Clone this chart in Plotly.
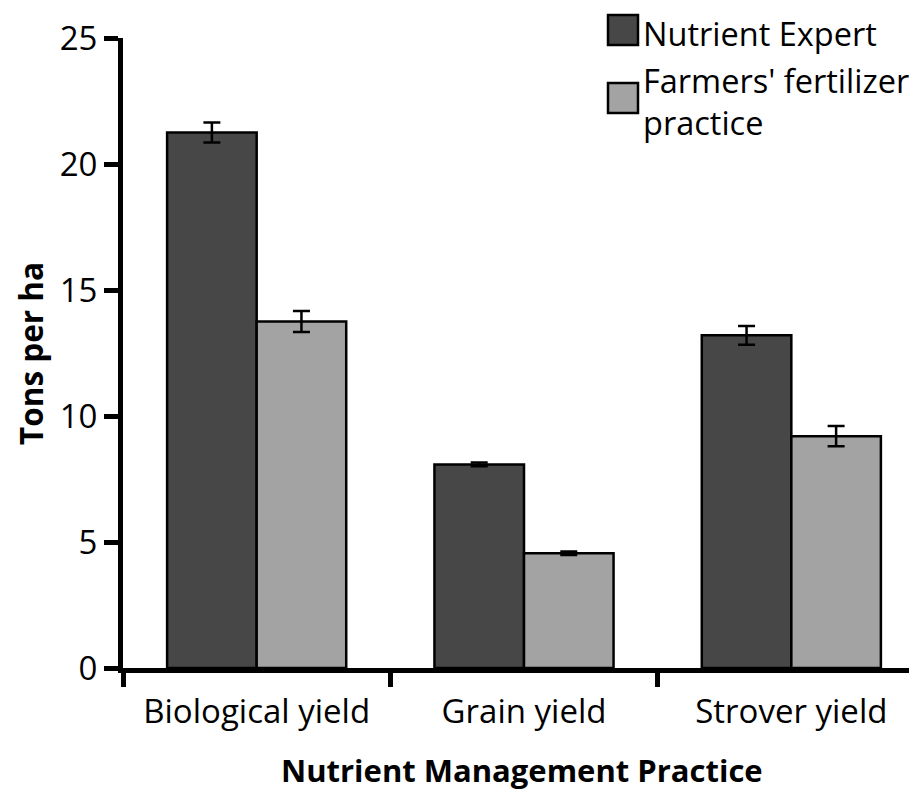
import plotly.graph_objects as go

categories = ["Biological yield", "Grain yield", "Strover yield"]
series_names = ["Nutrient Expert", "Farmers' fertilizer<br>practice"]
nutrient_expert = [21.25, 8.08, 13.2]
nutrient_expert_err = [0.4, 0.07, 0.37]
farmers_practice = [13.75, 4.55, 9.2]
farmers_practice_err = [0.42, 0.07, 0.4]
y_ticks = [0, 5, 10, 15, 20, 25]
x_title = "Nutrient Management Practice"
y_title = "Tons per ha"

colors = ["#474747", "#a3a3a3"]
FONT = "Open Sans"
FS = 33
FS_LEG = 32.5

W, H = 917, 792
OFF = 8  # page body margin
L, R, T, B = 115, 0, 30, 132


def px_x(p):
    return (p - OFF - L) / (W - L - R)


def px_y(p):
    return (H - B - (p - OFF)) / (H - T - B)


fig = go.Figure()
for name, vals, errs, col in [
    (series_names[0], nutrient_expert, nutrient_expert_err, colors[0]),
    (series_names[1], farmers_practice, farmers_practice_err, colors[1]),
]:
    fig.add_trace(go.Bar(
        x=categories, y=vals, name=name,
        marker=dict(color=col, line=dict(color="black", width=2.5)),
        error_y=dict(type="data", array=errs, visible=True, color="black",
                     thickness=2.5, width=8.5),
        showlegend=False,
    ))

# custom legend with large squares
sq_top = [15, 83]
text_center = [33, 102]
for i, (name, col) in enumerate(zip(series_names, colors)):
    fig.add_shape(type="rect", xref="paper", yref="paper",
                  x0=px_x(608), x1=px_x(638), y0=px_y(sq_top[i] + 30), y1=px_y(sq_top[i]),
                  fillcolor=col, line=dict(color="black", width=2.5))
    fig.add_annotation(xref="paper", yref="paper", x=px_x(641), y=px_y(text_center[i]),
                       text=name, showarrow=False, xanchor="left", yanchor="middle",
                       align="left", font=dict(family=FONT, size=FS_LEG, color="black"))

# axis titles as annotations (exact placement)
fig.add_annotation(xref="paper", yref="paper", x=px_x(522), y=px_y(770),
                   text=f"<b>{x_title}</b>", showarrow=False, xanchor="center", yanchor="middle",
                   font=dict(family=FONT, size=31, color="black"))
fig.add_annotation(xref="paper", yref="paper", x=px_x(30), y=px_y(354),
                   text=f"<b>{y_title}</b>", showarrow=False, textangle=-90,
                   xanchor="center", yanchor="middle",
                   font=dict(family=FONT, size=31.5, color="black"))

fig.update_layout(
    width=W, height=H,
    margin=dict(l=L, r=R, t=T, b=B, autoexpand=False),
    paper_bgcolor="white", plot_bgcolor="white",
    barmode="group", bargap=0.33, bargroupgap=0,
    font=dict(family=FONT, size=FS, color="black"),
)
fig.update_xaxes(
    automargin=False, range=[-0.5, 2.5],
    showline=True, linewidth=5, linecolor="black",
    ticks="outside", tickson="boundaries", ticklen=14, tickwidth=5, tickcolor="black",
    tickfont=dict(family=FONT, size=FS), ticklabelstandoff=10,
    showgrid=False,
)
fig.update_yaxes(
    automargin=False, range=[0, 25], tickvals=y_ticks,
    showline=True, linewidth=5, linecolor="black",
    ticks="outside", ticklen=14, tickwidth=5, tickcolor="black",
    tickfont=dict(family=FONT, size=FS),
    showgrid=False, zeroline=False,
)

fig.write_html("out.html")
